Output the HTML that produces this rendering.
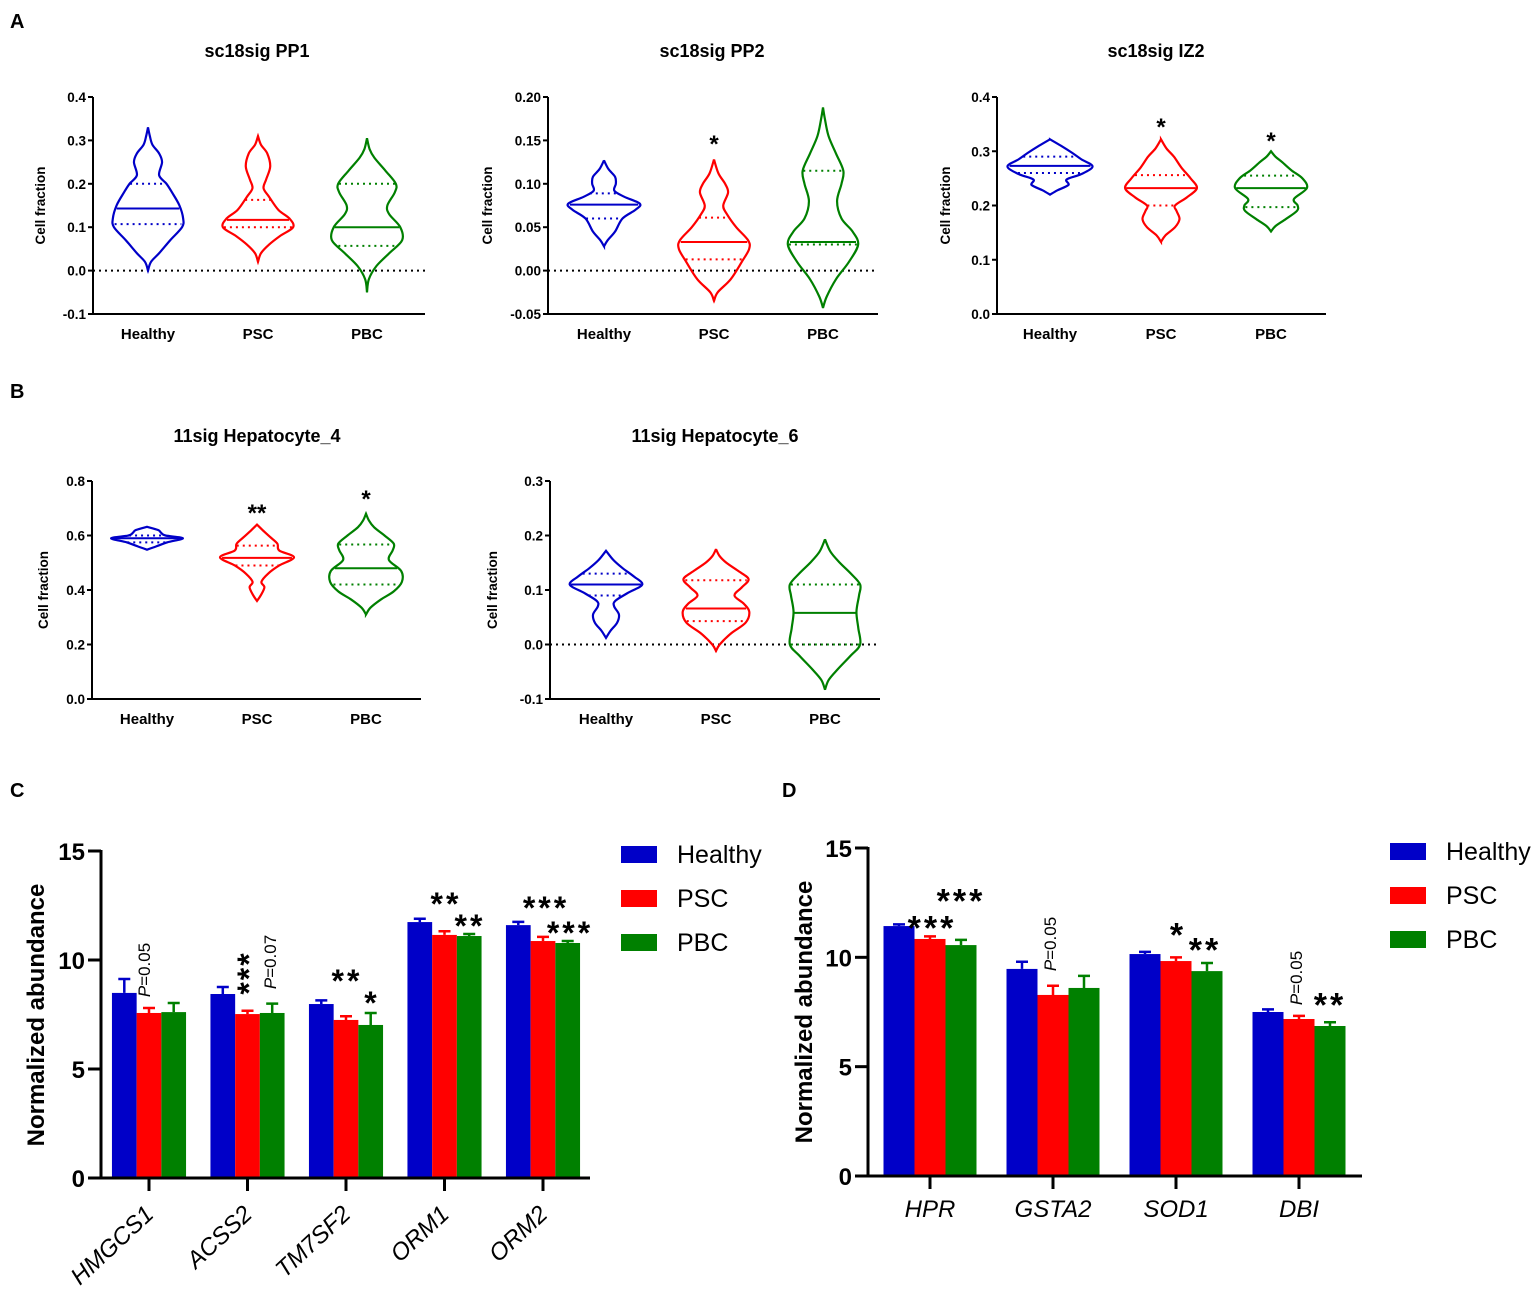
<!DOCTYPE html>
<html><head><meta charset="utf-8">
<style>
html,body{margin:0;padding:0;background:#fff;}
svg{display:block;font-family:"Liberation Sans",Arial,sans-serif;}
</style></head>
<body>
<svg id="fig" width="1535" height="1292" viewBox="0 0 1535 1292" xmlns="http://www.w3.org/2000/svg">
<g font-weight="bold" font-size="20" fill="#000">
<text x="10" y="28">A</text>
<text x="10" y="398">B</text>
<text x="10" y="797">C</text>
<text x="782" y="797">D</text>
</g>
</svg>
<script>
// ---------------- violin data ----------------
const violinGroups = ["Healthy","PSC","PBC"];
// profiles: [value, relative density]
const pp1Healthy = [[0,0],[0.02,0.08],[0.04,0.3],[0.07,0.6],[0.1,0.92],[0.12,0.95],[0.15,0.85],[0.18,0.65],[0.2,0.5],[0.22,0.3],[0.25,0.38],[0.27,0.3],[0.29,0.12],[0.31,0.05],[0.33,0]];
const pp1PSC = [[0.02,0],[0.04,0.08],[0.06,0.3],[0.08,0.6],[0.1,0.95],[0.12,0.85],[0.14,0.55],[0.17,0.3],[0.19,0.15],[0.21,0.22],[0.24,0.33],[0.27,0.25],[0.29,0.08],[0.31,0]];
const pp1PBC = [[-0.05,0],[-0.02,0.05],[0.01,0.25],[0.04,0.6],[0.07,0.95],[0.1,0.9],[0.13,0.6],[0.15,0.55],[0.18,0.75],[0.2,0.78],[0.23,0.5],[0.26,0.2],[0.28,0.07],[0.305,0]];
const pp1Stats = [[0.143,0.107,0.2],[0.117,0.1,0.163],[0.1,0.057,0.2]]; // median,q1,q3

const pp2Healthy = [[0.028,0],[0.035,0.1],[0.045,0.3],[0.06,0.5],[0.07,0.85],[0.077,0.97],[0.085,0.55],[0.092,0.28],[0.1,0.32],[0.108,0.3],[0.117,0.12],[0.127,0]];
const pp2PSC = [[-0.035,0],[-0.025,0.1],[-0.01,0.45],[0.01,0.75],[0.025,0.95],[0.035,0.92],[0.05,0.6],[0.065,0.35],[0.075,0.25],[0.09,0.38],[0.1,0.3],[0.112,0.12],[0.128,0]];
const pp2PBC = [[-0.043,0],[-0.03,0.1],[-0.01,0.35],[0.01,0.7],[0.03,0.95],[0.045,0.8],[0.06,0.5],[0.08,0.38],[0.1,0.5],[0.115,0.55],[0.135,0.35],[0.155,0.15],[0.175,0.05],[0.188,0]];
const pp2Stats = [[0.076,0.06,0.089],[0.033,0.013,0.061],[0.033,0.03,0.115]];

const iz2Healthy = [[0.22,0],[0.228,0.2],[0.238,0.5],[0.248,0.45],[0.258,0.85],[0.272,1.15],[0.285,0.85],[0.297,0.6],[0.31,0.3],[0.322,0]];
const iz2PSC = [[0.133,0],[0.145,0.12],[0.16,0.38],[0.175,0.5],[0.19,0.42],[0.2,0.38],[0.215,0.7],[0.232,0.97],[0.25,0.8],[0.27,0.55],[0.29,0.35],[0.305,0.15],[0.322,0]];
const iz2PBC = [[0.152,0],[0.162,0.12],[0.175,0.4],[0.19,0.7],[0.2,0.72],[0.212,0.62],[0.232,0.97],[0.25,0.85],[0.265,0.55],[0.28,0.3],[0.29,0.12],[0.3,0]];
const iz2Stats = [[0.273,0.26,0.29],[0.232,0.2,0.256],[0.232,0.197,0.255]];

const hep4Healthy = [[0.548,0],[0.56,0.25],[0.575,0.55],[0.59,0.97],[0.6,0.5],[0.61,0.38],[0.62,0.3],[0.632,0]];
const hep4PSC = [[0.36,0],[0.38,0.1],[0.41,0.2],[0.43,0.12],[0.46,0.3],[0.49,0.6],[0.52,1.0],[0.545,0.6],[0.57,0.55],[0.595,0.35],[0.62,0.15],[0.64,0]];
const hep4PBC = [[0.31,0],[0.335,0.12],[0.365,0.4],[0.395,0.75],[0.43,0.97],[0.47,0.95],[0.51,0.62],[0.545,0.72],[0.57,0.75],[0.6,0.5],[0.63,0.22],[0.655,0.08],[0.68,0]];
const hep4Stats = [[0.59,0.575,0.6],[0.518,0.49,0.563],[0.48,0.42,0.567]];

const hep6Healthy = [[0.012,0],[0.025,0.12],[0.04,0.3],[0.055,0.35],[0.07,0.22],[0.08,0.25],[0.095,0.6],[0.11,0.98],[0.125,0.75],[0.14,0.45],[0.155,0.2],[0.172,0]];
const hep6PSC = [[-0.012,0],[0.0,0.1],[0.02,0.4],[0.04,0.8],[0.06,0.9],[0.075,0.75],[0.09,0.5],[0.105,0.7],[0.12,0.88],[0.135,0.6],[0.15,0.28],[0.162,0.1],[0.175,0]];
const hep6PBC = [[-0.083,0],[-0.065,0.1],[-0.045,0.35],[-0.02,0.7],[0.0,0.95],[0.03,0.9],[0.06,0.85],[0.09,0.92],[0.11,0.95],[0.13,0.7],[0.15,0.4],[0.17,0.15],[0.193,0]];
const hep6Stats = [[0.11,0.09,0.13],[0.066,0.043,0.118],[0.058,0.0,0.11]];

const pp1Ticks = ["0.4","0.3","0.2","0.1","0.0","-0.1"];
const pp2Ticks = ["0.20","0.15","0.10","0.05","0.00","-0.05"];
const iz2Ticks = ["0.4","0.3","0.2","0.1","0.0"];
const hep4Ticks = ["0.8","0.6","0.4","0.2","0.0"];
const hep6Ticks = ["0.3","0.2","0.1","0.0","-0.1"];

// ---------------- bar data ----------------
const seriesNames = ["Healthy","PSC","PBC"];
const cGenes = ["HMGCS1","ACSS2","TM7SF2","ORM1","ORM2"];
const cHealthy = [8.49,8.44,7.98,11.74,11.6];
const cPSC = [7.57,7.52,7.25,11.15,10.87];
const cPBC = [7.61,7.57,7.02,11.1,10.78];
const cHealthyErr = [0.64,0.32,0.17,0.15,0.15];
const cPSCErr = [0.23,0.15,0.17,0.17,0.19];
const cPBCErr = [0.42,0.43,0.55,0.09,0.09];
const dGenes = ["HPR","GSTA2","SOD1","DBI"];
const dHealthy = [11.43,9.47,10.15,7.5];
const dPSC = [10.84,8.28,9.83,7.18];
const dPBC = [10.56,8.6,9.37,6.86];
const dHealthyErr = [0.08,0.33,0.1,0.12];
const dPSCErr = [0.12,0.42,0.17,0.14];
const dPBCErr = [0.24,0.55,0.37,0.17];
const barTicks = [0,5,10,15];

const NS="http://www.w3.org/2000/svg";
const svg=document.getElementById('fig');
const COL=["#0000c8","#ff0000","#008000"];
function mk(tag,attrs,parent){const e=document.createElementNS(NS,tag);for(const k in attrs)e.setAttribute(k,attrs[k]);(parent||svg).appendChild(e);return e;}
function txt(s,attrs,parent){const e=mk('text',attrs,parent);e.textContent=s;return e;}

function catmull(pts){
  let d="M"+pts[0][0]+","+pts[0][1];
  for(let i=0;i<pts.length-1;i++){
    const p0=pts[Math.max(i-1,0)],p1=pts[i],p2=pts[i+1],p3=pts[Math.min(i+2,pts.length-1)];
    const c1=[p1[0]+(p2[0]-p0[0])/6,p1[1]+(p2[1]-p0[1])/6];
    const c2=[p2[0]-(p3[0]-p1[0])/6,p2[1]-(p3[1]-p1[1])/6];
    d+=" C"+c1[0].toFixed(2)+","+c1[1].toFixed(2)+" "+c2[0].toFixed(2)+","+c2[1].toFixed(2)+" "+p2[0].toFixed(2)+","+p2[1].toFixed(2);
  }
  return d;
}
function widthAt(prof,v){
  for(let i=0;i<prof.length-1;i++){
    if(v>=prof[i][0]&&v<=prof[i+1][0]){const t=(v-prof[i][0])/(prof[i+1][0]-prof[i][0]);return prof[i][1]+t*(prof[i+1][1]-prof[i][1]);}
  }
  return 0;
}

function violinPanel(cfg){
  const g=mk('g',{});
  
  
  const yv=v=>cfg.yTop+(cfg.tMax-v)/(cfg.tMax-cfg.tMin)*(cfg.yBot-cfg.yTop);
  const t=txt(cfg.title,{x:cfg.titleX,y:cfg.titleY,'text-anchor':'middle','font-size':18,'font-weight':'bold'},g);
  
  
  const ya=mk('line',{x1:cfg.ax,y1:cfg.yTop,x2:cfg.ax,y2:cfg.yBot+1,stroke:'#000','stroke-width':2},g);
  
  
  const xa=mk('line',{x1:cfg.ax-1,y1:cfg.yBot,x2:cfg.axEnd,y2:cfg.yBot,stroke:'#000','stroke-width':2},g);
  
  
  cfg.ticks.forEach((lab,i)=>{
    const v=cfg.tMax-i*(cfg.tMax-cfg.tMin)/(cfg.ticks.length-1);
    const y=yv(v);
    mk('line',{x1:cfg.ax-5,y1:y,x2:cfg.ax,y2:y,stroke:'#000','stroke-width':2},g);
    const tl=txt(lab,{x:cfg.ax-7,y:y+5,'text-anchor':'end','font-size':13.5,'font-weight':'bold'},g);
    
    
  });
  const yt=txt("Cell fraction",{x:0,y:0,'text-anchor':'middle','font-size':13.5,'font-weight':'bold',transform:`translate(${cfg.titleYX},${(cfg.yTop+cfg.yBot)/2}) rotate(-90)`},g);
  
  
  if(cfg.tMin<0){
    const z=mk('line',{x1:cfg.ax,y1:yv(0),x2:cfg.axEnd,y2:yv(0),stroke:'#000','stroke-width':2,'stroke-dasharray':'2 4'},g);
    
    
  }
  violinGroups.forEach((grp,i)=>{
    const cx=cfg.cx[i], prof=cfg.profiles[i], st=cfg.stats[i], W=37;
    const right=prof.map(p=>[cx+p[1]*W,yv(p[0])]);
    const left=prof.slice().reverse().map(p=>[cx-p[1]*W,yv(p[0])]);
    const d=catmull(right)+" "+catmull(left).replace(/^M/,"L")+" Z";
    const vp=mk('path',{d:d,fill:'none',stroke:COL[i],'stroke-width':2.2},g);
    
    
    st.forEach((v,k)=>{
      const hw=widthAt(prof,v)*W*0.97;
      const l=mk('line',{x1:cx-hw,y1:yv(v),x2:cx+hw,y2:yv(v),stroke:COL[i],'stroke-width':2,'stroke-dasharray':k===0?'none':'2 4'},g);
      
      
    });
    const xl=txt(grp,{x:cx,y:cfg.labY,'text-anchor':'middle','font-size':15,'font-weight':'bold'},g);
    
    
    if(cfg.stars[i]){
      const s=txt(cfg.stars[i],{x:cx,y:cfg.starY[i],'text-anchor':'middle','font-size':24,'font-weight':'bold'},g);
      
      
    }
  });
}

violinPanel({name:'violin-pp1',title:'sc18sig PP1',titleX:257,titleY:57,ax:93,axEnd:425,yTop:97,yBot:314,tMax:0.4,tMin:-0.1,ticks:pp1Ticks,titleYX:45,cx:[148,258,367],profiles:[pp1Healthy,pp1PSC,pp1PBC],stats:pp1Stats,labY:339,stars:[null,null,null],starY:[0,0,0]});
violinPanel({name:'violin-pp2',title:'sc18sig PP2',titleX:712,titleY:57,ax:548,axEnd:878,yTop:97,yBot:314,tMax:0.2,tMin:-0.05,ticks:pp2Ticks,titleYX:492,cx:[604,714,823],profiles:[pp2Healthy,pp2PSC,pp2PBC],stats:pp2Stats,labY:339,stars:[null,'*',null],starY:[0,152,0]});
violinPanel({name:'violin-iz2',title:'sc18sig IZ2',titleX:1156,titleY:57,ax:997,axEnd:1326,yTop:97,yBot:314,tMax:0.4,tMin:0,ticks:iz2Ticks,titleYX:950,cx:[1050,1161,1271],profiles:[iz2Healthy,iz2PSC,iz2PBC],stats:iz2Stats,labY:339,stars:[null,'*','*'],starY:[0,135,149]});
violinPanel({name:'violin-hepatocyte4',title:'11sig Hepatocyte_4',titleX:257,titleY:442,ax:92,axEnd:421,yTop:481,yBot:699,tMax:0.8,tMin:0,ticks:hep4Ticks,titleYX:48,cx:[147,257,366],profiles:[hep4Healthy,hep4PSC,hep4PBC],stats:hep4Stats,labY:724,stars:[null,'**','*'],starY:[0,521,507]});
violinPanel({name:'violin-hepatocyte6',title:'11sig Hepatocyte_6',titleX:715,titleY:442,ax:550,axEnd:880,yTop:481,yBot:699,tMax:0.3,tMin:-0.1,ticks:hep6Ticks,titleYX:497,cx:[606,716,825],profiles:[hep6Healthy,hep6PSC,hep6PBC],stats:hep6Stats,labY:724,stars:[null,null,null],starY:[0,0,0]});

function barPanel(cfg){
  const g=mk('g',{});
  
  
  const yv=v=>cfg.y0-(v/15)*(cfg.y0-cfg.y15);
  const series=[cfg.h,cfg.p,cfg.b], errs=[cfg.he,cfg.pe,cfg.be];
  cfg.genes.forEach((gene,gi)=>{
    const cx=cfg.x0+gi*cfg.step;
    series.forEach((arr,si)=>{
      const x=cx+(si-1.5)*cfg.bw;
      const r=mk('rect',{x:x,y:yv(arr[gi]),width:cfg.bw,height:yv(0)-yv(arr[gi]),fill:COL[si]},g);
      
      
      const xm=x+cfg.bw/2, ytop=yv(arr[gi]+errs[si][gi]);
      const e=mk('path',{d:`M${xm},${yv(arr[gi])} V${ytop} M${xm-6},${ytop} H${xm+6}`,stroke:COL[si],'stroke-width':2.5,fill:'none'},g);
      
      
    });
    mk('line',{x1:cx,y1:cfg.y0,x2:cx,y2:cfg.y0+13,stroke:'#000','stroke-width':3},g);
    let lab;
    if(cfg.rot){
      lab=txt(gene,{x:0,y:0,'text-anchor':'end','font-size':24,'font-style':'italic',transform:`translate(${cx+6},${cfg.y0+38}) rotate(-43)`},g);
    } else {
      lab=txt(gene,{x:cx,y:cfg.y0+41,'text-anchor':'middle','font-size':24,'font-style':'italic'},g);
    }
    
    
  });
  const ya=mk('line',{x1:cfg.ax,y1:cfg.y15-1,x2:cfg.ax,y2:cfg.y0+1.5,stroke:'#000','stroke-width':3},g);
  
  
  const xa=mk('line',{x1:cfg.ax,y1:cfg.y0,x2:cfg.axEnd,y2:cfg.y0,stroke:'#000','stroke-width':3},g);
  
  
  barTicks.forEach(v=>{
    mk('line',{x1:cfg.ax-13,y1:yv(v),x2:cfg.ax,y2:yv(v),stroke:'#000','stroke-width':3},g);
    const t=txt(String(v),{x:cfg.ax-16,y:yv(v)+9,'text-anchor':'end','font-size':24,'font-weight':'bold'},g);
    
    
  });
  const yt=txt("Normalized abundance",{x:0,y:0,'text-anchor':'middle','font-size':24,'font-weight':'bold',transform:`translate(${cfg.titleX},${cfg.titleY}) rotate(-90)`},g);
  
  
  seriesNames.forEach((s,i)=>{
    const r=mk('rect',{x:cfg.legX,y:cfg.legY+i*44,width:36,height:17,fill:COL[i]},g);
    
    
    const t=txt(s,{x:cfg.legX+56,y:cfg.legY+i*44+17,'font-size':25},g);
    
    
  });
  cfg.ann.forEach(a=>{
    let t;
    if(a.p){
      t=mk('text',{x:0,y:0,'text-anchor':'middle','font-size':17,transform:`translate(${a.x+6},${a.y}) rotate(-90)`},g);
      const ti=document.createElementNS(NS,'tspan');ti.setAttribute('font-style','italic');ti.textContent='P';t.appendChild(ti);
      t.appendChild(document.createTextNode(a.p));
    } else if(a.rot){
      t=txt(a.s,{x:0,y:0,'text-anchor':'middle','font-size':cfg.fs,'font-weight':'bold','letter-spacing':2,transform:`translate(${a.x+0.57*cfg.fs},${a.y}) rotate(-90)`},g);
    } else {
      t=txt(a.s,{x:a.x,y:a.y+0.57*cfg.fs,'text-anchor':'middle','font-size':cfg.fs,'font-weight':'bold','letter-spacing':3},g);
    }
    
    
  });
}

barPanel({name:'bar-chart-c',genes:cGenes,h:cHealthy,p:cPSC,b:cPBC,he:cHealthyErr,pe:cPSCErr,be:cPBCErr,
  x0:149,step:98.5,bw:24.7,ax:101,axEnd:590,y0:1178,y15:851,rot:true,titleX:44,titleY:1015,legX:621,legY:846,fs:32,
  ann:[{p:'=0.05',x:144,y:970},{s:'***',rot:true,x:242,y:973},{p:'=0.07',x:270,y:962},{s:'**',x:347,y:974},{s:'*',x:372,y:996},
       {s:'**',x:446,y:897},{s:'**',x:470,y:919},{s:'***',x:546,y:901},{s:'***',x:570,y:926}]});
barPanel({name:'bar-chart-d',genes:dGenes,h:dHealthy,p:dPSC,b:dPBC,he:dHealthyErr,pe:dPSCErr,be:dPBCErr,
  x0:930,step:123,bw:31,ax:868,axEnd:1362,y0:1176,y15:848,rot:false,titleX:812,titleY:1012,legX:1390,legY:843,fs:34,
  ann:[{s:'***',x:932,y:920},{s:'***',x:961,y:893},{p:'=0.05',x:1050,y:944},{s:'*',x:1178,y:927},{s:'**',x:1205,y:942},
       {p:'=0.05',x:1296,y:978},{s:'**',x:1330,y:997}]});
</script>
</body></html>
